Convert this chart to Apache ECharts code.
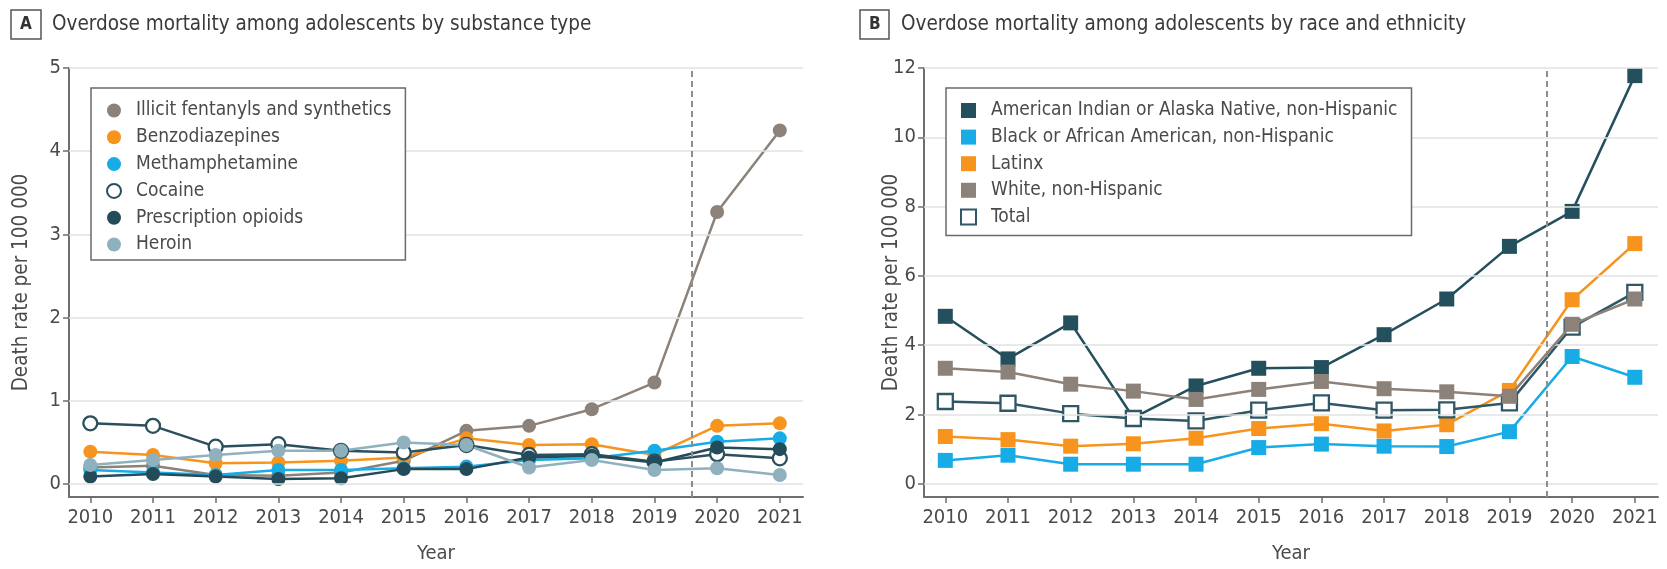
<!DOCTYPE html>
<html>
<head>
<meta charset="utf-8">
<script src="https://cdn.jsdelivr.net/npm/echarts@6/dist/echarts.min.js"></script>
<style>
  html, body { margin: 0; padding: 0; background: #fff; }
  #chart { width: 1667px; height: 569px; }
</style>
</head>
<body>
<div id="chart"></div>
<script>
// years on the x axis (both panels)
const years = [2010, 2011, 2012, 2013, 2014, 2015, 2016, 2017, 2018, 2019, 2020, 2021];
const yTicksA = [0, 1, 2, 3, 4, 5];
const yTicksB = [0, 2, 4, 6, 8, 10, 12];

// panel A - by substance type
const fentanyl = [0.20, 0.22, 0.11, 0.10, 0.14, 0.28, 0.64, 0.70, 0.90, 1.22, 3.27, 4.25];
const benzo    = [0.39, 0.35, 0.25, 0.26, 0.28, 0.32, 0.55, 0.47, 0.48, 0.35, 0.70, 0.73];
const meth     = [0.17, 0.14, 0.11, 0.17, 0.17, 0.19, 0.21, 0.29, 0.31, 0.40, 0.51, 0.55];
const cocaine  = [0.73, 0.70, 0.45, 0.48, 0.40, 0.38, 0.47, 0.35, 0.36, 0.27, 0.36, 0.31];
const opioids  = [0.09, 0.12, 0.09, 0.06, 0.07, 0.18, 0.18, 0.32, 0.34, 0.26, 0.44, 0.42];
const heroin   = [0.23, 0.29, 0.35, 0.40, 0.40, 0.50, 0.47, 0.20, 0.29, 0.17, 0.19, 0.11];

// panel B - by race and ethnicity
const aian   = [4.83, 3.60, 4.64, 1.90, 2.82, 3.33, 3.35, 4.30, 5.33, 6.85, 7.86, 11.78];
const black  = [0.67, 0.82, 0.56, 0.56, 0.56, 1.04, 1.14, 1.08, 1.07, 1.50, 3.67, 3.07];
const latinx = [1.36, 1.27, 1.08, 1.15, 1.31, 1.59, 1.73, 1.52, 1.70, 2.69, 5.31, 6.93];
const white  = [3.33, 3.22, 2.87, 2.67, 2.43, 2.72, 2.95, 2.74, 2.65, 2.52, 4.60, 5.33];
const total  = [2.37, 2.32, 2.02, 1.88, 1.81, 2.12, 2.33, 2.12, 2.13, 2.33, 4.52, 5.52];

const pandemicLine = 2019.6;

const FONT = '"DejaVu Sans Condensed", "Liberation Sans Narrow", Roboto, sans-serif';
const TXT = '#4a4a4a';
const AXIS = '#6e6e6e';
const GRID = '#e2e2e2';

const pairs = (arr) => years.map((y, i) => [y, arr[i]]);

function xAxisCfg(idx) {
  return {
    type: 'value', gridIndex: idx, min: 2009.66, max: 2021.37,
    name: 'Year', nameLocation: 'middle', nameGap: 47, nameMoveOverlap: false,
    nameTextStyle: { fontFamily: FONT, fontSize: 20, color: TXT },
    axisLine: { onZero: false, lineStyle: { color: AXIS, width: 2 } },
    axisTick: { customValues: years, length: 6, lineStyle: { color: AXIS, width: 1.5 } },
    axisLabel: { customValues: years, formatter: v => String(v), margin: 11,
      fontFamily: FONT, fontSize: 20, color: TXT },
    splitLine: { show: false }
  };
}
function yAxisCfg(idx, min, max, ticks) {
  return {
    type: 'value', gridIndex: idx, min: min, max: max,
    name: 'Death rate per 100 000', nameLocation: 'middle', nameMoveOverlap: false,
    nameGap: idx === 0 ? 37 : 22,
    nameTextStyle: { fontFamily: FONT, fontSize: 20.5, color: TXT },
    axisLine: { show: true, onZero: false, lineStyle: { color: AXIS, width: 2 } },
    axisTick: { show: true, customValues: ticks, length: 6, lineStyle: { color: AXIS, width: 1.5 } },
    axisLabel: { customValues: ticks, margin: 8, fontFamily: FONT, fontSize: 20, color: TXT },
    splitLine: { show: false }
  };
}

// gridlines and the dashed 2019/2020 divider, drawn through the axes
function guideSeries(idx, ticks) {
  return {
    type: 'line', xAxisIndex: idx, yAxisIndex: idx, data: [], z: 1, silent: true,
    markLine: {
      silent: true, symbol: 'none', label: { show: false }, animation: false,
      data: ticks.map(t => ({ yAxis: t, lineStyle: { color: GRID, width: 1.5, type: 'solid' } }))
        .concat([{ xAxis: pandemicLine, lineStyle: { color: '#8e8e8e', width: 2, type: [6, 4] } }])
    }
  };
}

function lineA(name, arr, color, opts) {
  opts = opts || {};
  return {
    name: name, type: 'line', xAxisIndex: 0, yAxisIndex: 0, data: pairs(arr),
    symbol: 'circle', symbolSize: 14, z: opts.z || 3,
    lineStyle: { color: opts.line || color, width: 2.5 },
    itemStyle: { color: opts.fill || color, borderColor: opts.border || color, borderWidth: opts.border ? 2.3 : 0 }
  };
}
function lineB(name, arr, color, opts) {
  opts = opts || {};
  return {
    name: name, type: 'line', xAxisIndex: 1, yAxisIndex: 1, data: pairs(arr),
    symbol: 'rect', symbolSize: 15, z: opts.z || 3,
    lineStyle: { color: opts.line || color, width: 2.5 },
    itemStyle: { color: opts.fill || color, borderColor: opts.border || color, borderWidth: opts.border ? 2.3 : 0 }
  };
}

const namesA = ['Illicit fentanyls and synthetics', 'Benzodiazepines', 'Methamphetamine', 'Cocaine', 'Prescription opioids', 'Heroin'];
const namesB = ['American Indian or Alaska Native, non-Hispanic', 'Black or African American, non-Hispanic', 'Latinx', 'White, non-Hispanic', 'Total'];

const legendBase = {
  orient: 'vertical', borderColor: '#6a6a6a', borderWidth: 1.5,
  backgroundColor: '#ffffff', z: 20,
  itemGap: 7.8, selectedMode: false,
  textStyle: { fontFamily: FONT, fontSize: 19, color: TXT, padding: [0, 0, 0, 10] }
};

const option = {
  animation: false,
  backgroundColor: '#fff',
  title: [
    { text: 'A', left: 11, top: 10, padding: [6, 9, 6, 9], borderColor: '#555', borderWidth: 1.5,
      textStyle: { fontFamily: FONT, fontSize: 17, fontWeight: 'bold', color: '#333' } },
    { text: 'Overdose mortality among adolescents by substance type', left: 52, top: 14, padding: 0,
      textStyle: { fontFamily: FONT, fontSize: 20.5, fontWeight: 'normal', color: '#3a3a3a' } },
    { text: 'B', left: 860, top: 10, padding: [6, 9, 6, 9], borderColor: '#555', borderWidth: 1.5,
      textStyle: { fontFamily: FONT, fontSize: 17, fontWeight: 'bold', color: '#333' } },
    { text: 'Overdose mortality among adolescents by race and ethnicity', left: 901, top: 14, padding: 0,
      textStyle: { fontFamily: FONT, fontSize: 20.5, fontWeight: 'normal', color: '#3a3a3a' } }
  ],
  legend: [
    Object.assign({}, legendBase, {
      left: 91, top: 88, padding: [13, 14, 6, 15], itemWidth: 14, itemHeight: 14,
      icon: 'circle', data: namesA
    }),
    Object.assign({}, legendBase, {
      left: 946, top: 88, padding: [13, 14, 9, 14], itemWidth: 15, itemHeight: 15, itemGap: 7.6,
      icon: 'rect', data: namesB
    })
  ],
  grid: [
    { left: 69, right: 1667 - 803, top: 68, bottom: 569 - 500 },
    { left: 924, right: 1667 - 1658, top: 68, bottom: 569 - 500 }
  ],
  xAxis: [xAxisCfg(0), xAxisCfg(1)],
  yAxis: [yAxisCfg(0, -0.155, 5, yTicksA), yAxisCfg(1, -0.387, 12, yTicksB)],
  series: [
    guideSeries(0, yTicksA),
    guideSeries(1, yTicksB),
    lineA(namesA[0], fentanyl, '#8c8279'),
    lineA(namesA[1], benzo, '#f7941d'),
    lineA(namesA[2], meth, '#17ace6'),
    lineA(namesA[3], cocaine, '#2b4f5d', { fill: '#ffffff', border: '#2b4f5d' }),
    lineA(namesA[4], opioids, '#234b59'),
    lineA(namesA[5], heroin, '#8fb1be'),
    lineB(namesB[0], aian, '#24505e'),
    lineB(namesB[1], black, '#17ace6'),
    lineB(namesB[2], latinx, '#f7941d'),
    lineB(namesB[3], white, '#8c8279', { z: 5 }),
    lineB(namesB[4], total, '#2f5765', { fill: '#ffffff', border: '#2f5765', z: 4 })
  ]
};

const myChart = echarts.init(document.getElementById('chart'));
myChart.setOption(option);
</script>
</body>
</html>
